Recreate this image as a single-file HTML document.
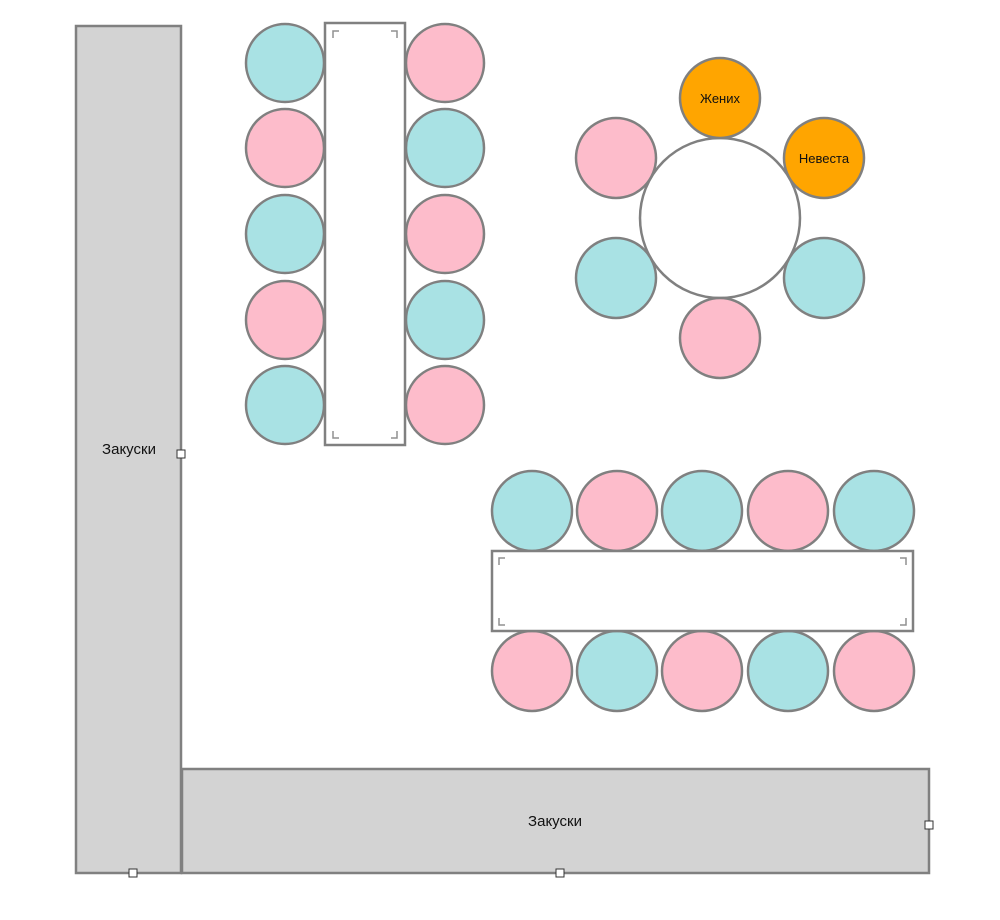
<!DOCTYPE html>
<html><head><meta charset="utf-8"><style>
html,body{margin:0;padding:0;background:#fff;}
svg{display:block;}
text{font-family:"Liberation Sans","DejaVu Sans",sans-serif;fill:#111;}
</style></head><body>
<svg width="1000" height="920" viewBox="0 0 1000 920" xmlns="http://www.w3.org/2000/svg">
<g stroke="#808080" stroke-width="2.5">
<!-- L-shaped buffet -->
<rect x="76" y="26" width="105" height="847" fill="#d3d3d3"/>
<rect x="182" y="769" width="747" height="104" fill="#d3d3d3"/>
<!-- vertical table seats -->
<circle cx="285" cy="63" r="39" fill="#a9e2e4"/>
<circle cx="285" cy="148" r="39" fill="#fdbccb"/>
<circle cx="285" cy="234" r="39" fill="#a9e2e4"/>
<circle cx="285" cy="320" r="39" fill="#fdbccb"/>
<circle cx="285" cy="405" r="39" fill="#a9e2e4"/>
<circle cx="445" cy="63" r="39" fill="#fdbccb"/>
<circle cx="445" cy="148" r="39" fill="#a9e2e4"/>
<circle cx="445" cy="234" r="39" fill="#fdbccb"/>
<circle cx="445" cy="320" r="39" fill="#a9e2e4"/>
<circle cx="445" cy="405" r="39" fill="#fdbccb"/>
<rect x="325" y="23" width="80" height="422" fill="#fff"/>
<!-- round table -->
<circle cx="720" cy="218" r="80" fill="#fff"/>
<circle cx="720" cy="98" r="40" fill="#ffa500"/>
<circle cx="824" cy="158" r="40" fill="#ffa500"/>
<circle cx="616" cy="158" r="40" fill="#fdbccb"/>
<circle cx="616" cy="278" r="40" fill="#a9e2e4"/>
<circle cx="824" cy="278" r="40" fill="#a9e2e4"/>
<circle cx="720" cy="338" r="40" fill="#fdbccb"/>
<!-- horizontal table -->
<circle cx="532" cy="511" r="40" fill="#a9e2e4"/>
<circle cx="617" cy="511" r="40" fill="#fdbccb"/>
<circle cx="702" cy="511" r="40" fill="#a9e2e4"/>
<circle cx="788" cy="511" r="40" fill="#fdbccb"/>
<circle cx="874" cy="511" r="40" fill="#a9e2e4"/>
<circle cx="532" cy="671" r="40" fill="#fdbccb"/>
<circle cx="617" cy="671" r="40" fill="#a9e2e4"/>
<circle cx="702" cy="671" r="40" fill="#fdbccb"/>
<circle cx="788" cy="671" r="40" fill="#a9e2e4"/>
<circle cx="874" cy="671" r="40" fill="#fdbccb"/>
<rect x="492" y="551" width="421" height="80" fill="#fff"/>
</g>
<!-- corner marks -->
<g stroke="#909090" stroke-width="1.5" fill="none">
<path d="M333 38 V31 H339"/><path d="M397 38 V31 H391"/>
<path d="M333 431 V438 H339"/><path d="M397 431 V438 H391"/>
<path d="M499 565 V558 H505"/><path d="M906 565 V558 H900"/>
<path d="M499 618 V625 H505"/><path d="M906 618 V625 H900"/>
</g>
<!-- handles -->
<g fill="#fff" stroke="#333" stroke-width="1">
<rect x="177" y="450" width="8" height="8"/>
<rect x="129" y="869" width="8" height="8"/>
<rect x="556" y="869" width="8" height="8"/>
<rect x="925" y="821" width="8" height="8"/>
</g>
<text x="129" y="454" font-size="15" text-anchor="middle">Закуски</text>
<text x="555" y="826" font-size="15" text-anchor="middle">Закуски</text>
<text x="720" y="103" font-size="13" text-anchor="middle">Жених</text>
<text x="824" y="163" font-size="13" text-anchor="middle">Невеста</text>
</svg>
</body></html>
